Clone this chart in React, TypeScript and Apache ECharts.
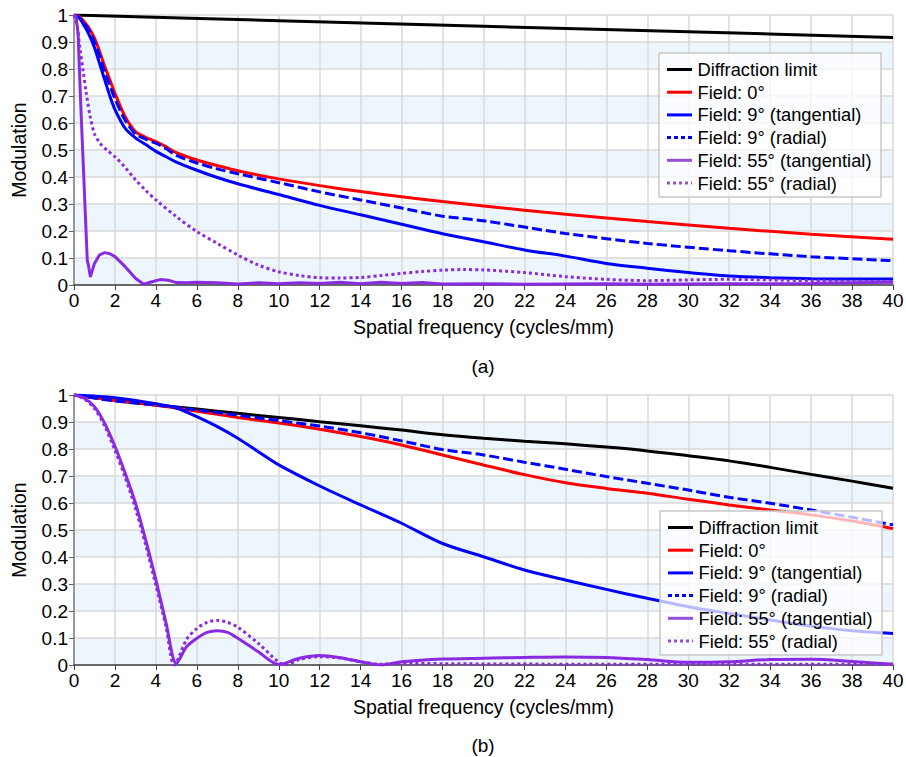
import React, { useEffect, useRef } from "react";
import * as echarts from "echarts";

const SERIES_NAMES = [
  "Diffraction limit",
  "Field: 0°",
  "Field: 9° (tangential)",
  "Field: 9° (radial)",
  "Field: 55° (tangential)",
  "Field: 55° (radial)",
];
const PANEL_LABELS = ["(a)", "(b)"];
const X_AXIS_NAME = "Spatial frequency (cycles/mm)";
const Y_AXIS_NAME = "Modulation";

// ---------- Panel (a) ----------
const aDiffX = [0, 10, 20, 30, 40];
const aDiffY = [1, 0.979, 0.958, 0.938, 0.917];

const aF0X = [0, 0.25, 0.5, 0.75, 1, 1.25, 1.5, 1.75, 2, 2.5, 3, 3.5, 4, 4.5, 5, 6, 7, 8, 10, 12, 14, 16, 18, 20, 24, 28, 32, 36, 40];
const aF0Y = [1, 0.995, 0.975, 0.95, 0.914, 0.865, 0.81, 0.76, 0.71, 0.623, 0.568, 0.547, 0.531, 0.512, 0.49, 0.463, 0.442, 0.423, 0.393, 0.368, 0.346, 0.327, 0.309, 0.293, 0.262, 0.235, 0.21, 0.188, 0.169];

const aF9tX = [0, 0.25, 0.5, 0.75, 1, 1.25, 1.5, 1.75, 2, 2.5, 3, 3.5, 4, 4.5, 5, 6, 7, 8, 10, 12, 14, 16, 18, 20, 22, 24, 26, 28, 30, 32, 34, 36, 38, 40];
const aF9tY = [1, 0.99, 0.96, 0.925, 0.88, 0.82, 0.76, 0.7, 0.65, 0.58, 0.545, 0.52, 0.495, 0.475, 0.455, 0.425, 0.398, 0.375, 0.335, 0.295, 0.26, 0.225, 0.19, 0.16, 0.13, 0.107, 0.08, 0.062, 0.046, 0.033, 0.027, 0.023, 0.022, 0.022];

const aF9rX = [0, 0.25, 0.5, 0.75, 1, 1.25, 1.5, 1.75, 2, 2.5, 3, 3.5, 4, 4.5, 5, 6, 7, 8, 10, 12, 14, 16, 18, 20, 24, 28, 32, 36, 40];
const aF9rY = [1, 0.99, 0.97, 0.94, 0.9, 0.85, 0.79, 0.74, 0.69, 0.61, 0.56, 0.54, 0.525, 0.505, 0.48, 0.452, 0.43, 0.412, 0.379, 0.345, 0.315, 0.285, 0.255, 0.238, 0.191, 0.154, 0.127, 0.105, 0.09];

const aF55tX = [0, 0.1, 0.2, 0.3, 0.4, 0.5, 0.6, 0.65, 0.7, 0.8, 0.9, 1, 1.25, 1.5, 1.75, 2, 2.5, 3, 3.4, 3.8, 4.2, 4.6, 5, 5.5, 6, 7, 8, 9, 10, 11, 12, 13, 14, 15, 16, 17, 18, 20, 22, 24, 26, 28, 30, 32, 34, 36, 38, 40];
const aF55tY = [1, 0.995, 0.93, 0.725, 0.54, 0.36, 0.177, 0.09, 0.075, 0.03, 0.055, 0.08, 0.112, 0.12, 0.116, 0.105, 0.068, 0.025, 0.003, 0.012, 0.02, 0.018, 0.009, 0.008, 0.01, 0.008, 0.004, 0.008, 0.005, 0.008, 0.006, 0.01, 0.005, 0.01, 0.006, 0.009, 0.004, 0.005, 0.003, 0.004, 0.005, 0.003, 0.004, 0.005, 0.005, 0.006, 0.008, 0.01];

const aF55rX = [0, 0.15, 0.3, 0.45, 0.6, 0.8, 1, 1.27, 1.6, 2, 2.5, 3, 3.5, 4, 5, 6, 7, 8, 9, 10, 11, 12, 13, 14, 15, 16, 17, 18, 19, 20, 22, 24, 26, 28, 30, 32, 34, 36, 38, 40];
const aF55rY = [1, 0.96, 0.87, 0.79, 0.71, 0.62, 0.56, 0.525, 0.5, 0.475, 0.435, 0.39, 0.35, 0.315, 0.253, 0.198, 0.154, 0.111, 0.074, 0.049, 0.035, 0.027, 0.026, 0.028, 0.035, 0.043, 0.05, 0.055, 0.057, 0.056, 0.046, 0.031, 0.021, 0.016, 0.019, 0.021, 0.019, 0.016, 0.014, 0.012];

// ---------- Panel (b) ----------
const bDiffX = [0, 2, 4, 6, 8, 10, 12, 14, 16, 18, 20, 22, 24, 26, 28, 30, 32, 34, 36, 38, 40];
const bDiffY = [1, 0.98, 0.963, 0.948, 0.932, 0.917, 0.901, 0.886, 0.87, 0.853, 0.84, 0.829, 0.819, 0.807, 0.793, 0.775, 0.756, 0.732, 0.706, 0.681, 0.655];

const bF0X = [0, 2, 4, 6, 8, 10, 12, 14, 16, 18, 20, 22, 24, 26, 28, 30, 32, 34, 36, 38, 40];
const bF0Y = [1, 0.98, 0.962, 0.94, 0.917, 0.896, 0.873, 0.846, 0.815, 0.778, 0.741, 0.705, 0.675, 0.654, 0.636, 0.614, 0.593, 0.574, 0.556, 0.533, 0.505];

const bF9tX = [0, 2, 4, 5, 6, 7, 8, 9, 10, 12, 14, 16, 18, 20, 22, 24, 26, 28, 30, 32, 34, 36, 38, 40];
const bF9tY = [1, 0.99, 0.968, 0.952, 0.92, 0.883, 0.84, 0.79, 0.741, 0.663, 0.593, 0.525, 0.45, 0.401, 0.352, 0.315, 0.28, 0.247, 0.216, 0.191, 0.167, 0.144, 0.127, 0.117];

const bF9rX = [0, 2, 4, 6, 8, 10, 12, 14, 16, 18, 20, 22, 24, 26, 28, 30, 32, 34, 36, 38, 40];
const bF9rY = [1, 0.978, 0.963, 0.945, 0.925, 0.905, 0.885, 0.86, 0.83, 0.798, 0.778, 0.751, 0.725, 0.698, 0.673, 0.648, 0.621, 0.599, 0.574, 0.547, 0.519];

const bF55tX = [0, 0.5, 1, 1.5, 2, 2.5, 3, 3.5, 4, 4.5, 5, 5.5, 6, 6.5, 7, 7.5, 8, 9, 10, 11, 12, 13, 14, 15, 16, 18, 20, 22, 24, 26, 28, 30, 32, 34, 36, 38, 40];
const bF55tY = [1, 0.988, 0.957, 0.895, 0.81, 0.71, 0.6, 0.463, 0.315, 0.154, 0.006, 0.068, 0.099, 0.121, 0.127, 0.121, 0.099, 0.049, 0.002, 0.025, 0.035, 0.027, 0.012, 0.0, 0.012, 0.022, 0.025, 0.028, 0.03, 0.028, 0.02, 0.01, 0.012, 0.02, 0.021, 0.013, 0.003];

const bF55rX = [0, 0.5, 1, 1.5, 2, 2.5, 3, 3.5, 4, 4.5, 4.9, 5.5, 6, 6.5, 7, 7.5, 8, 9, 10, 10.3, 11, 12, 13, 14, 15, 16, 18, 20, 25, 30, 35, 40];
const bF55rY = [1, 0.985, 0.95, 0.885, 0.795, 0.695, 0.58, 0.445, 0.295, 0.14, 0.0, 0.095, 0.135, 0.158, 0.165, 0.158, 0.14, 0.08, 0.01, 0.0, 0.02, 0.031, 0.026, 0.012, 0.003, 0.006, 0.005, 0.004, 0.003, 0.003, 0.003, 0.003];

const PANEL_A = [
  [aDiffX, aDiffY],
  [aF0X, aF0Y],
  [aF9tX, aF9tY],
  [aF9rX, aF9rY],
  [aF55tX, aF55tY],
  [aF55rX, aF55rY],
];
const PANEL_B = [
  [bDiffX, bDiffY],
  [bF0X, bF0Y],
  [bF9tX, bF9tY],
  [bF9rX, bF9rY],
  [bF55tX, bF55tY],
  [bF55rX, bF55rY],
];

const FONT = '"Liberation Sans", Arial, sans-serif';
const COLORS = ["#000000", "#ff0000", "#0000ff", "#0000ff", "#8a2be2", "#8a2be2"];
const LEGEND_COLORS = ["#000000", "#ff0000", "#0000ff", "#0000ff", "#9150d6", "#9150d6"];
const DASHES: any[] = ["solid", "solid", "solid", [10, 4], "solid", [3, 3]];
const LEGEND_DASHES: any[] = [null, null, null, [4, 3], null, [3, 3]];

const zip = (xs: number[], ys: number[]) => xs.map((x, i) => [x, ys[i]]);

function legendElements(key: string, left: number, top: number) {
  const els: any[] = [
    {
      type: "rect",
      id: key + "-box",
      z: 100,
      shape: { x: left, y: top, width: 222, height: 144 },
      style: { fill: "rgba(255,255,255,0.72)", stroke: "#c8c8c8", lineWidth: 1.5 },
    },
  ];
  SERIES_NAMES.forEach((name, i) => {
    const cy = top + 16.5 + i * 22.7;
    const lineStyle: any = { stroke: LEGEND_COLORS[i], lineWidth: 3 };
    if (LEGEND_DASHES[i]) lineStyle.lineDash = LEGEND_DASHES[i];
    els.push({
      type: "line",
      id: key + "-line-" + i,
      z: 101,
      shape: { x1: left + 8, y1: cy, x2: left + 33, y2: cy },
      style: lineStyle,
    });
    els.push({
      type: "text",
      id: key + "-text-" + i,
      z: 101,
      x: left + 38.5,
      y: cy,
      style: {
        text: name,
        font: `18.3px ${FONT}`,
        fill: "#000",
        textAlign: "left",
        textVerticalAlign: "middle",
      },
    });
  });
  return els;
}

export default function App() {
  const ref = useRef<HTMLDivElement>(null);
  useEffect(() => {
    if (!ref.current) return;
    const chart = echarts.init(ref.current, null, { renderer: "svg" });
    const grids = [
      { left: 74, top: 15, width: 819, height: 270, outerBoundsMode: "none" },
      { left: 74, top: 395, width: 819, height: 270, outerBoundsMode: "none" },
    ];
    const xAxis = [0, 1].map((gi) => ({
      type: "value",
      gridIndex: gi,
      min: 0,
      max: 40,
      interval: 2,
      name: X_AXIS_NAME,
      nameLocation: "middle",
      nameGap: 32,
      nameTextStyle: { fontSize: 19.5, color: "#000", fontFamily: FONT },
      axisLine: { show: true, onZero: false, lineStyle: { color: "#404040", width: 1.5 } },
      axisTick: { show: true, length: 5, lineStyle: { color: "#404040", width: 1 } },
      axisLabel: { fontSize: 19, color: "#000", margin: 6, fontFamily: FONT },
      splitLine: { show: true, lineStyle: { color: "#d9d9d9", width: 1.5 } },
    }));
    const yAxis = [0, 1].map((gi) => ({
      type: "value",
      gridIndex: gi,
      min: 0,
      max: 1,
      interval: 0.1,
      name: Y_AXIS_NAME,
      nameLocation: "middle",
      nameGap: 45,
      nameRotate: 90,
      nameTextStyle: { fontSize: 19.5, color: "#000", fontFamily: FONT },
      axisLine: { show: true, lineStyle: { color: "#808080", width: 1.5 } },
      axisTick: { show: true, length: 5, lineStyle: { color: "#606060", width: 1 } },
      axisLabel: { fontSize: 19, color: "#000", margin: 6, fontFamily: FONT },
      splitLine: { show: true, lineStyle: { color: "#d9d9d9", width: 1.5 } },
      splitArea: { show: true, areaStyle: { color: ["#edf5fd", "#ffffff"] } },
    }));
    const series: any[] = [];
    [PANEL_A, PANEL_B].forEach((panel, gi) => {
      panel.forEach(([xs, ys], si) => {
        series.push({
          type: "line",
          name: SERIES_NAMES[si],
          xAxisIndex: gi,
          yAxisIndex: gi,
          data: zip(xs as number[], ys as number[]),
          showSymbol: false,
          symbol: "none",
          smooth: gi === 0 && si === 4 ? false : 0.3,
          lineStyle: { color: COLORS[si], width: 3, type: DASHES[si] },
          itemStyle: { color: COLORS[si] },
          z: 2,
        });
      });
    });
    chart.setOption({
      animation: false,
      backgroundColor: "#ffffff",
      textStyle: { fontFamily: FONT },
      grid: grids,
      xAxis,
      yAxis,
      graphic: {
        elements: [
          ...legendElements("lga", 659, 53),
          ...legendElements("lgb", 660, 511),
          {
            type: "text",
            id: "pa",
            x: 483,
            y: 366,
            style: { text: PANEL_LABELS[0], font: `19px ${FONT}`, fill: "#000", textAlign: "center", textVerticalAlign: "middle" },
          },
          {
            type: "text",
            id: "pb",
            x: 483,
            y: 745,
            style: { text: PANEL_LABELS[1], font: `19px ${FONT}`, fill: "#000", textAlign: "center", textVerticalAlign: "middle" },
          },
        ],
      },
      series,
    });
    return () => chart.dispose();
  }, []);
  return (
    <div
      ref={ref}
      style={{ position: "fixed", left: 0, top: 0, width: 906, height: 757, background: "#fff" }}
    />
  );
}
